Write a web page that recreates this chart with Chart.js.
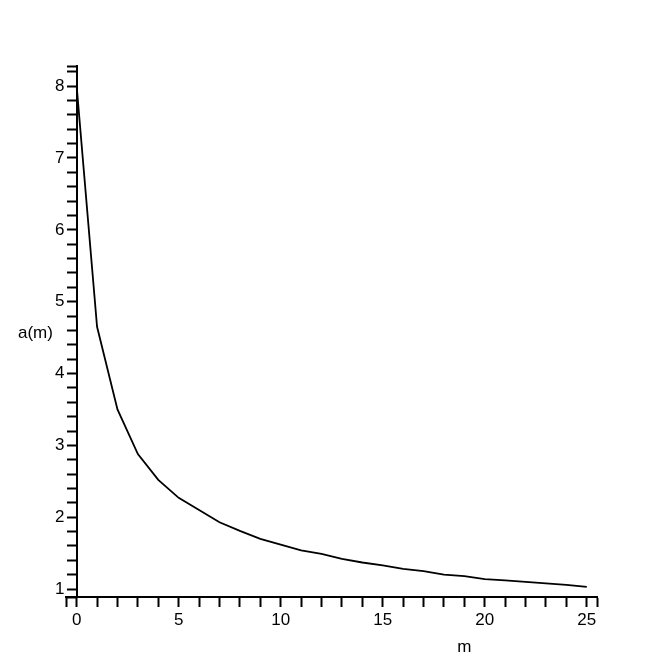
<!DOCTYPE html>
<html>
<head>
<meta charset="utf-8">
<script src="https://cdn.jsdelivr.net/npm/chart.js@4/dist/chart.umd.min.js"></script>
<style>
  body { margin: 0; background: #fff; }
  #wrap { width: 664px; height: 664px; }
</style>
</head>
<body>
<div id="wrap"><canvas id="chart" width="664" height="664"></canvas></div>
<script>
// values
const mValues = [0, 1, 2, 3, 4, 5, 6, 7, 8, 9, 10, 11, 12, 13, 14, 15, 16, 17, 18, 19, 20, 21, 22, 23, 24, 25];
const aValues = [8.0, 4.65, 3.50, 2.88, 2.52, 2.27, 2.10, 1.93, 1.81, 1.70, 1.62, 1.54, 1.49, 1.42, 1.37, 1.33,
  1.28, 1.25, 1.20, 1.18, 1.14, 1.12, 1.10, 1.08, 1.06, 1.03];

// tick marks (axis ends included, like the original) and the ones that carry a label
const xTicks = [-0.5, 0, 1, 2, 3, 4, 5, 6, 7, 8, 9, 10, 11, 12, 13, 14, 15, 16, 17, 18, 19, 20, 21, 22, 23, 24, 25, 25.5];
const xLabels = [0, 5, 10, 15, 20, 25];
const yTicks = [0.89, 1, 1.2, 1.4, 1.6, 1.8, 2, 2.2, 2.4, 2.6, 2.8, 3, 3.2, 3.4, 3.6, 3.8, 4, 4.2, 4.4, 4.6, 4.8,
  5, 5.2, 5.4, 5.6, 5.8, 6, 6.2, 6.4, 6.6, 6.8, 7, 7.2, 7.4, 7.6, 7.8, 8, 8.2, 8.28];
const yLabels = [1, 2, 3, 4, 5, 6, 7, 8];

const X_MIN = -0.5;
const X_MAX = 25.5;
const Y_MIN = 0.89;
const Y_MAX = 8.28;

const FONT = { family: "'Liberation Sans', Arial, sans-serif", size: 17 };

/**
 * Draws the two axis names the way Maple does: plain horizontal text.
 */
const axisNames = {
  id: 'axisNames',
  afterDraw(chart) {
    const { ctx, chartArea } = chart;
    ctx.save();
    ctx.fillStyle = '#000';
    ctx.font = `${FONT.size}px ${FONT.family}`;
    ctx.textAlign = 'center';
    ctx.textBaseline = 'middle';
    ctx.fillText('a(m)', chartArea.left - 31, (chartArea.top + chartArea.bottom) / 2 + 2);
    ctx.fillText('m', chartArea.left + 0.75 * (chartArea.right - chartArea.left), chartArea.bottom + 50);
    ctx.restore();
  }
};

function axisGrid() {
  return {
    display: true,
    drawOnChartArea: false,
    drawTicks: true,
    tickLength: 9,
    tickWidth: 2,
    tickColor: '#000'
  };
}

new Chart(document.getElementById('chart'), {
  type: 'line',
  data: {
    datasets: [{
      data: mValues.map((m, i) => ({ x: m, y: aValues[i] })),
      borderColor: '#000',
      borderWidth: 1.8,
      tension: 0,
      pointRadius: 0,
      fill: false
    }]
  },
  options: {
    responsive: false,
    animation: false,
    layout: { padding: { left: 53, top: 66, right: 67, bottom: 67 } },
    plugins: {
      legend: { display: false },
      tooltip: { enabled: false }
    },
    scales: {
      x: {
        type: 'linear',
        position: { y: Y_MIN },
        min: X_MIN,
        max: X_MAX,
        afterBuildTicks: (scale) => { scale.ticks = xTicks.map((v) => ({ value: v })); },
        ticks: {
          autoSkip: false,
          maxRotation: 0,
          padding: 4,
          color: '#000',
          font: FONT,
          callback: (v) => (xLabels.includes(v) ? String(v) : '')
        },
        grid: axisGrid(),
        border: { display: true, color: '#000', width: 2 }
      },
      // axis line and tick marks, crossing at m = 0
      y: {
        type: 'linear',
        position: { x: 0 },
        min: Y_MIN,
        max: Y_MAX,
        afterBuildTicks: (scale) => { scale.ticks = yTicks.map((v) => ({ value: v })); },
        ticks: { autoSkip: false, callback: () => '' },
        grid: axisGrid(),
        border: { display: true, color: '#000', width: 2 }
      },
      // only the numbers, just left of the plot box
      yText: {
        type: 'linear',
        position: 'left',
        min: Y_MIN,
        max: Y_MAX,
        afterBuildTicks: (scale) => { scale.ticks = yLabels.map((v) => ({ value: v })); },
        ticks: { autoSkip: false, padding: 2, color: '#000', font: FONT },
        grid: { display: false, drawTicks: false },
        border: { display: false }
      }
    }
  },
  plugins: [axisNames]
});
</script>
</body>
</html>
